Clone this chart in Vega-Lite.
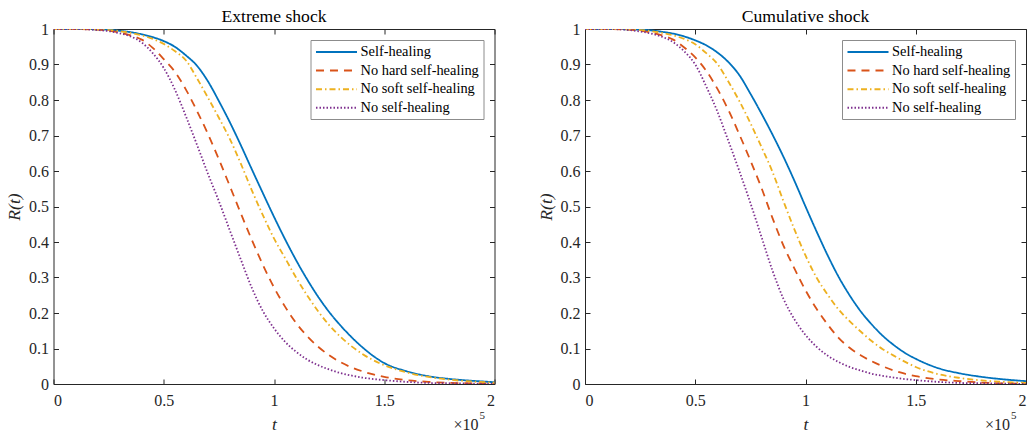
{
  "$schema": "https://vega.github.io/schema/vega-lite/v6.json",
  "padding": {"left": 5.5, "top": 8, "right": 0, "bottom": 0},
  "config": {
    "font": "Liberation Serif",
    "view": {"stroke": null},
    "axis": {"labelFont": "Liberation Serif", "labelFontSize": 16, "labelColor": "#262626", "titleFont": "Liberation Serif", "titleFontSize": 17.6, "titleFontWeight": "normal", "titleFontStyle": "italic", "titleColor": "#262626", "domainColor": "#262626", "tickColor": "#262626", "grid": false, "tickSize": -5, "domainWidth": 1, "tickWidth": 1},
    "title": {"font": "Liberation Serif", "fontSize": 17.6, "fontWeight": "normal", "color": "#000000"},
    "legend": {"orient": "top-right", "offset": 11, "title": null, "symbolType": "M-3,0H3", "symbolSize": 187, "symbolOffset": 14, "symbolStrokeWidth": 2, "symbolFillColor": "transparent", "labelFont": "Liberation Serif", "labelFontSize": 14.4, "labelColor": "#000000", "strokeColor": "#8c8c8c", "fillColor": "#ffffff", "padding": 4, "rowPadding": 3.6, "labelOffset": 16},
    "concat": {"spacing": 41.5}
  },
  "datasets": {
    "extreme": [
      {"t": 0, "Self-healing": 1, "No hard self-healing": 1, "No soft self-healing": 1, "No self-healing": 1},
      {"t": 0.1, "Self-healing": 1, "No hard self-healing": 1, "No soft self-healing": 1, "No self-healing": 1},
      {"t": 0.2, "Self-healing": 0.999, "No hard self-healing": 0.998, "No soft self-healing": 0.999, "No self-healing": 0.997},
      {"t": 0.25, "Self-healing": 0.998, "No hard self-healing": 0.995, "No soft self-healing": 0.997, "No self-healing": 0.994},
      {"t": 0.3, "Self-healing": 0.995, "No hard self-healing": 0.99, "No soft self-healing": 0.994, "No self-healing": 0.988},
      {"t": 0.35, "Self-healing": 0.991, "No hard self-healing": 0.982, "No soft self-healing": 0.989, "No self-healing": 0.979},
      {"t": 0.4, "Self-healing": 0.985, "No hard self-healing": 0.97, "No soft self-healing": 0.982, "No self-healing": 0.962},
      {"t": 0.45, "Self-healing": 0.977, "No hard self-healing": 0.947, "No soft self-healing": 0.972, "No self-healing": 0.932},
      {"t": 0.5, "Self-healing": 0.966, "No hard self-healing": 0.915, "No soft self-healing": 0.958, "No self-healing": 0.89},
      {"t": 0.55, "Self-healing": 0.95, "No hard self-healing": 0.88, "No soft self-healing": 0.938, "No self-healing": 0.83},
      {"t": 0.6, "Self-healing": 0.926, "No hard self-healing": 0.83, "No soft self-healing": 0.912, "No self-healing": 0.755},
      {"t": 0.65, "Self-healing": 0.897, "No hard self-healing": 0.77, "No soft self-healing": 0.862, "No self-healing": 0.675},
      {"t": 0.7, "Self-healing": 0.853, "No hard self-healing": 0.705, "No soft self-healing": 0.807, "No self-healing": 0.593},
      {"t": 0.75, "Self-healing": 0.797, "No hard self-healing": 0.633, "No soft self-healing": 0.75, "No self-healing": 0.515},
      {"t": 0.8, "Self-healing": 0.737, "No hard self-healing": 0.557, "No soft self-healing": 0.69, "No self-healing": 0.432},
      {"t": 0.85, "Self-healing": 0.672, "No hard self-healing": 0.48, "No soft self-healing": 0.62, "No self-healing": 0.35},
      {"t": 0.9, "Self-healing": 0.604, "No hard self-healing": 0.405, "No soft self-healing": 0.545, "No self-healing": 0.27},
      {"t": 0.95, "Self-healing": 0.537, "No hard self-healing": 0.335, "No soft self-healing": 0.475, "No self-healing": 0.205},
      {"t": 1.0, "Self-healing": 0.471, "No hard self-healing": 0.272, "No soft self-healing": 0.41, "No self-healing": 0.157},
      {"t": 1.05, "Self-healing": 0.408, "No hard self-healing": 0.218, "No soft self-healing": 0.355, "No self-healing": 0.119},
      {"t": 1.1, "Self-healing": 0.349, "No hard self-healing": 0.172, "No soft self-healing": 0.3, "No self-healing": 0.091},
      {"t": 1.15, "Self-healing": 0.295, "No hard self-healing": 0.135, "No soft self-healing": 0.25, "No self-healing": 0.069},
      {"t": 1.2, "Self-healing": 0.246, "No hard self-healing": 0.105, "No soft self-healing": 0.205, "No self-healing": 0.053},
      {"t": 1.25, "Self-healing": 0.203, "No hard self-healing": 0.081, "No soft self-healing": 0.166, "No self-healing": 0.041},
      {"t": 1.3, "Self-healing": 0.166, "No hard self-healing": 0.062, "No soft self-healing": 0.134, "No self-healing": 0.031},
      {"t": 1.35, "Self-healing": 0.133, "No hard self-healing": 0.047, "No soft self-healing": 0.107, "No self-healing": 0.024},
      {"t": 1.4, "Self-healing": 0.104, "No hard self-healing": 0.036, "No soft self-healing": 0.085, "No self-healing": 0.018},
      {"t": 1.45, "Self-healing": 0.079, "No hard self-healing": 0.027, "No soft self-healing": 0.067, "No self-healing": 0.014},
      {"t": 1.5, "Self-healing": 0.059, "No hard self-healing": 0.02, "No soft self-healing": 0.053, "No self-healing": 0.011},
      {"t": 1.6, "Self-healing": 0.036, "No hard self-healing": 0.011, "No soft self-healing": 0.033, "No self-healing": 0.006},
      {"t": 1.7, "Self-healing": 0.022, "No hard self-healing": 0.006, "No soft self-healing": 0.02, "No self-healing": 0.003},
      {"t": 1.8, "Self-healing": 0.014, "No hard self-healing": 0.003, "No soft self-healing": 0.012, "No self-healing": 0.002},
      {"t": 1.9, "Self-healing": 0.009, "No hard self-healing": 0.002, "No soft self-healing": 0.007, "No self-healing": 0.001},
      {"t": 2.0, "Self-healing": 0.005, "No hard self-healing": 0.001, "No soft self-healing": 0.004, "No self-healing": 0.0}
    ],
    "cumulative": [
      {"t": 0, "Self-healing": 1, "No hard self-healing": 1, "No soft self-healing": 1, "No self-healing": 1},
      {"t": 0.1, "Self-healing": 1, "No hard self-healing": 1, "No soft self-healing": 1, "No self-healing": 1},
      {"t": 0.2, "Self-healing": 0.999, "No hard self-healing": 0.998, "No soft self-healing": 0.999, "No self-healing": 0.997},
      {"t": 0.25, "Self-healing": 0.998, "No hard self-healing": 0.995, "No soft self-healing": 0.997, "No self-healing": 0.993},
      {"t": 0.3, "Self-healing": 0.996, "No hard self-healing": 0.99, "No soft self-healing": 0.994, "No self-healing": 0.987},
      {"t": 0.35, "Self-healing": 0.992, "No hard self-healing": 0.982, "No soft self-healing": 0.989, "No self-healing": 0.978},
      {"t": 0.4, "Self-healing": 0.987, "No hard self-healing": 0.97, "No soft self-healing": 0.982, "No self-healing": 0.963},
      {"t": 0.45, "Self-healing": 0.979, "No hard self-healing": 0.948, "No soft self-healing": 0.972, "No self-healing": 0.937},
      {"t": 0.5, "Self-healing": 0.968, "No hard self-healing": 0.92, "No soft self-healing": 0.957, "No self-healing": 0.9},
      {"t": 0.55, "Self-healing": 0.954, "No hard self-healing": 0.882, "No soft self-healing": 0.932, "No self-healing": 0.838},
      {"t": 0.6, "Self-healing": 0.934, "No hard self-healing": 0.832, "No soft self-healing": 0.902, "No self-healing": 0.768},
      {"t": 0.65, "Self-healing": 0.907, "No hard self-healing": 0.772, "No soft self-healing": 0.852, "No self-healing": 0.685},
      {"t": 0.7, "Self-healing": 0.87, "No hard self-healing": 0.703, "No soft self-healing": 0.797, "No self-healing": 0.6},
      {"t": 0.75, "Self-healing": 0.818, "No hard self-healing": 0.63, "No soft self-healing": 0.735, "No self-healing": 0.51},
      {"t": 0.8, "Self-healing": 0.762, "No hard self-healing": 0.553, "No soft self-healing": 0.668, "No self-healing": 0.415},
      {"t": 0.85, "Self-healing": 0.703, "No hard self-healing": 0.468, "No soft self-healing": 0.598, "No self-healing": 0.32},
      {"t": 0.9, "Self-healing": 0.64, "No hard self-healing": 0.39, "No soft self-healing": 0.515, "No self-healing": 0.24},
      {"t": 0.95, "Self-healing": 0.572, "No hard self-healing": 0.325, "No soft self-healing": 0.435, "No self-healing": 0.182},
      {"t": 1.0, "Self-healing": 0.5, "No hard self-healing": 0.264, "No soft self-healing": 0.362, "No self-healing": 0.138},
      {"t": 1.05, "Self-healing": 0.43, "No hard self-healing": 0.212, "No soft self-healing": 0.3, "No self-healing": 0.105},
      {"t": 1.1, "Self-healing": 0.363, "No hard self-healing": 0.168, "No soft self-healing": 0.252, "No self-healing": 0.08},
      {"t": 1.15, "Self-healing": 0.302, "No hard self-healing": 0.13, "No soft self-healing": 0.21, "No self-healing": 0.062},
      {"t": 1.2, "Self-healing": 0.25, "No hard self-healing": 0.102, "No soft self-healing": 0.177, "No self-healing": 0.048},
      {"t": 1.25, "Self-healing": 0.205, "No hard self-healing": 0.081, "No soft self-healing": 0.148, "No self-healing": 0.038},
      {"t": 1.3, "Self-healing": 0.168, "No hard self-healing": 0.064, "No soft self-healing": 0.121, "No self-healing": 0.029},
      {"t": 1.35, "Self-healing": 0.136, "No hard self-healing": 0.05, "No soft self-healing": 0.098, "No self-healing": 0.023},
      {"t": 1.4, "Self-healing": 0.11, "No hard self-healing": 0.038, "No soft self-healing": 0.08, "No self-healing": 0.018},
      {"t": 1.45, "Self-healing": 0.088, "No hard self-healing": 0.029, "No soft self-healing": 0.063, "No self-healing": 0.014},
      {"t": 1.5, "Self-healing": 0.071, "No hard self-healing": 0.022, "No soft self-healing": 0.048, "No self-healing": 0.011},
      {"t": 1.6, "Self-healing": 0.045, "No hard self-healing": 0.013, "No soft self-healing": 0.028, "No self-healing": 0.006},
      {"t": 1.7, "Self-healing": 0.03, "No hard self-healing": 0.008, "No soft self-healing": 0.017, "No self-healing": 0.003},
      {"t": 1.8, "Self-healing": 0.02, "No hard self-healing": 0.004, "No soft self-healing": 0.01, "No self-healing": 0.002},
      {"t": 1.9, "Self-healing": 0.013, "No hard self-healing": 0.002, "No soft self-healing": 0.006, "No self-healing": 0.001},
      {"t": 2.0, "Self-healing": 0.008, "No hard self-healing": 0.001, "No soft self-healing": 0.003, "No self-healing": 0.0}
    ]
  },
  "hconcat": [
    {
      "title": {"text": "Extreme shock", "offset": -5},
      "width": 441, "height": 355,
      "layer": [
        {
          "data": {"name": "extreme"},
          "transform": [{"fold": ["Self-healing", "No hard self-healing", "No soft self-healing", "No self-healing"], "as": ["series", "R"]}],
          "mark": {"type": "line", "interpolate": "monotone", "strokeWidth": 1.8, "clip": true},
          "encoding": {
            "x": {"field": "t", "type": "quantitative", "scale": {"domain": [0, 2], "nice": false}, "axis": {"orient": "bottom", "values": [0, 0.5, 1, 1.5, 2], "format": "~g", "title": "t", "labelPadding": 13, "titlePadding": 7}},
            "y": {"field": "R", "type": "quantitative", "scale": {"domain": [0, 1], "nice": false}, "axis": {"orient": "left", "values": [0, 0.1, 0.2, 0.3, 0.4, 0.5, 0.6, 0.7, 0.8, 0.9, 1], "format": "~g", "title": "R(t)", "labelPadding": 10, "titlePadding": 5}},
            "color": {"field": "series", "type": "nominal", "sort": null, "scale": {"domain": ["Self-healing", "No hard self-healing", "No soft self-healing", "No self-healing"], "range": ["#0072BD", "#D95319", "#EDB120", "#7E2F8E"]}, "legend": {}},
            "strokeDash": {"field": "series", "type": "nominal", "sort": null, "scale": {"domain": ["Self-healing", "No hard self-healing", "No soft self-healing", "No self-healing"], "range": [[1, 0], [8, 6], [6, 3, 1.5, 3], [1.5, 2]]}}
          }
        },
        {
          "data": {"values": [{}]},
          "mark": {"type": "text", "align": "right", "baseline": "alphabetic", "dx": -16, "dy": 46, "fontSize": 16, "font": "Liberation Serif", "color": "#262626"},
          "encoding": {
            "x": {"datum": 2, "type": "quantitative", "axis": {"orient": "top", "labels": false, "title": null, "values": [0, 0.5, 1, 1.5, 2], "minExtent": 0, "maxExtent": 0}},
            "y": {"datum": 0, "type": "quantitative", "axis": {"orient": "right", "labels": false, "title": null, "values": [0, 0.1, 0.2, 0.3, 0.4, 0.5, 0.6, 0.7, 0.8, 0.9, 1], "minExtent": 0, "maxExtent": 0}},
            "text": {"value": "×10"}
          }
        },
        {
          "data": {"values": [{}]},
          "mark": {"type": "text", "align": "left", "baseline": "alphabetic", "dx": -15, "dy": 35, "fontSize": 11, "font": "Liberation Serif", "color": "#262626"},
          "encoding": {
            "x": {"datum": 2, "type": "quantitative", "axis": null},
            "y": {"datum": 0, "type": "quantitative", "axis": null},
            "text": {"value": "5"}
          }
        }
      ],
      "resolve": {"axis": {"x": "independent", "y": "independent"}}
    },
    {
      "title": {"text": "Cumulative shock", "offset": -5},
      "width": 441, "height": 355,
      "layer": [
        {
          "data": {"name": "cumulative"},
          "transform": [{"fold": ["Self-healing", "No hard self-healing", "No soft self-healing", "No self-healing"], "as": ["series", "R"]}],
          "mark": {"type": "line", "interpolate": "monotone", "strokeWidth": 1.8, "clip": true},
          "encoding": {
            "x": {"field": "t", "type": "quantitative", "scale": {"domain": [0, 2], "nice": false}, "axis": {"orient": "bottom", "values": [0, 0.5, 1, 1.5, 2], "format": "~g", "title": "t", "labelPadding": 13, "titlePadding": 7}},
            "y": {"field": "R", "type": "quantitative", "scale": {"domain": [0, 1], "nice": false}, "axis": {"orient": "left", "values": [0, 0.1, 0.2, 0.3, 0.4, 0.5, 0.6, 0.7, 0.8, 0.9, 1], "format": "~g", "title": "R(t)", "labelPadding": 10, "titlePadding": 5}},
            "color": {"field": "series", "type": "nominal", "sort": null, "scale": {"domain": ["Self-healing", "No hard self-healing", "No soft self-healing", "No self-healing"], "range": ["#0072BD", "#D95319", "#EDB120", "#7E2F8E"]}, "legend": {}},
            "strokeDash": {"field": "series", "type": "nominal", "sort": null, "scale": {"domain": ["Self-healing", "No hard self-healing", "No soft self-healing", "No self-healing"], "range": [[1, 0], [8, 6], [6, 3, 1.5, 3], [1.5, 2]]}}
          }
        },
        {
          "data": {"values": [{}]},
          "mark": {"type": "text", "align": "right", "baseline": "alphabetic", "dx": -16, "dy": 46, "fontSize": 16, "font": "Liberation Serif", "color": "#262626"},
          "encoding": {
            "x": {"datum": 2, "type": "quantitative", "axis": {"orient": "top", "labels": false, "title": null, "values": [0, 0.5, 1, 1.5, 2], "minExtent": 0, "maxExtent": 0}},
            "y": {"datum": 0, "type": "quantitative", "axis": {"orient": "right", "labels": false, "title": null, "values": [0, 0.1, 0.2, 0.3, 0.4, 0.5, 0.6, 0.7, 0.8, 0.9, 1], "minExtent": 0, "maxExtent": 0}},
            "text": {"value": "×10"}
          }
        },
        {
          "data": {"values": [{}]},
          "mark": {"type": "text", "align": "left", "baseline": "alphabetic", "dx": -15, "dy": 35, "fontSize": 11, "font": "Liberation Serif", "color": "#262626"},
          "encoding": {
            "x": {"datum": 2, "type": "quantitative", "axis": null},
            "y": {"datum": 0, "type": "quantitative", "axis": null},
            "text": {"value": "5"}
          }
        }
      ],
      "resolve": {"axis": {"x": "independent", "y": "independent"}}
    }
  ],
  "resolve": {"scale": {"color": "independent", "strokeDash": "independent"}, "legend": {"color": "independent", "strokeDash": "independent"}}
}
